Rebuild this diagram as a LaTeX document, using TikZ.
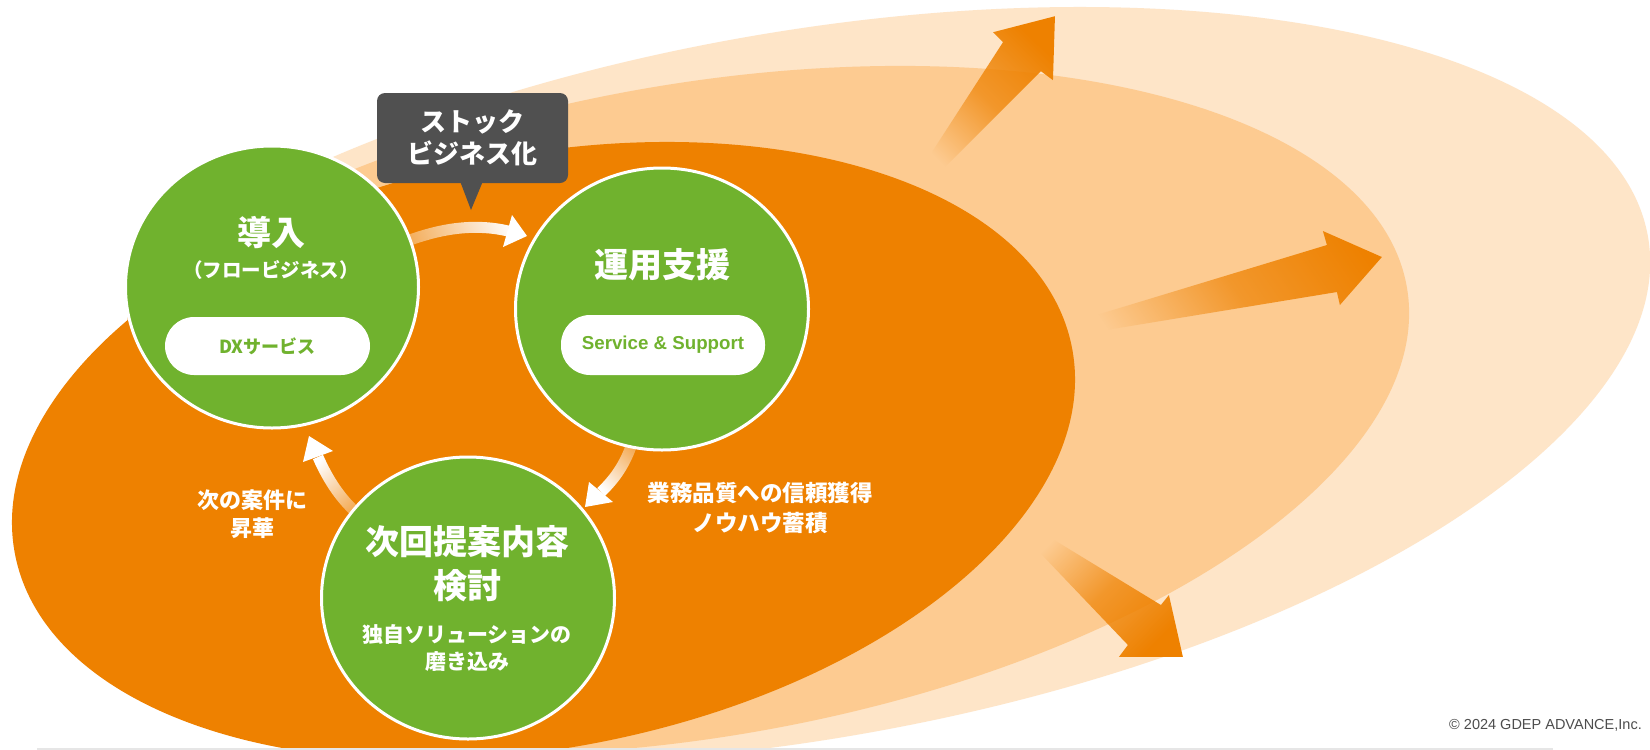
\documentclass[tikz,border=0pt]{standalone}
\usepackage{fontspec}
\newfontfamily\jp{Noto Sans CJK JP}
\newfontfamily\lsans{Liberation Sans}
\usetikzlibrary{fadings,shapes.geometric}
\definecolor{cDark}{HTML}{EE8100}
\definecolor{cMid}{HTML}{FDCB91}
\definecolor{cLight}{HTML}{FEE5C8}
\definecolor{cGreen}{HTML}{70B22E}
\definecolor{cGray}{HTML}{505050}
\definecolor{cLine}{HTML}{E6E6E6}
\definecolor{cCopy}{HTML}{4D4D4D}
\tikzfading[name=bigfade, left color=transparent!100, right color=transparent!0, middle color=transparent!30]
\tikzfading[name=whitefade, left color=transparent!70, right color=transparent!0]
\begin{document}
\begin{tikzpicture}[x=1pt,y=-1pt,
  circ/.style={shape=ellipse, fill=cGreen, draw=white, line width=3pt, inner sep=0pt, minimum width=293pt, minimum height=282pt},
  pill/.style={fill=white, rounded corners=29pt, inner sep=0pt, minimum height=58pt, text=cGreen},
  ttl/.style={text=white, align=center, inner sep=0pt, font={\jp\bfseries\fontsize{34}{44}\selectfont}},
  sub/.style={text=white, align=center, inner sep=0pt, font={\jp\bfseries\fontsize{19.5}{24}\selectfont}},
  lbl/.style={text=white, align=center, inner sep=0pt, font={\jp\bfseries\fontsize{22}{28}\selectfont}},
  shaft/.style={white, line width=11pt, path fading=whitefade},
  bigarrow/.style={fill=cDark, path fading=bigfade}]
\useasboundingbox (0,0) rectangle (1650,750);
\fill[white] (0,0) rectangle (1650,750);

% ripple ellipses
\begin{scope}
  \clip (200,-20) -- (1700,-20) -- (1700,800) -- (345,800) -- (127,322) -- (135,250) -- cycle;
  \fill[cLight, rotate around={10.02:(804,385.5)}] (804,385.5) ellipse [x radius=857, y radius=353.2];
  \fill[cMid, rotate around={9.87:(699.8,410.2)}] (699.8,410.2) ellipse [x radius=717.7, y radius=326.3];
\end{scope}

% growth arrows
\fill[bigarrow, fading angle=50.8] (917,175) -- (1003,42) -- (993,32) -- (1055,16) -- (1053,80) -- (1041,71) -- (930,182) -- cycle;
\fill[bigarrow, fading angle=13] (1080,320) -- (1327,245) -- (1323,231) -- (1382,257) -- (1340,305) -- (1337,292) -- (1088,333) -- cycle;
\fill[bigarrow, fading angle=-39] (1033,527) -- (1161,605) -- (1169,595) -- (1183,657) -- (1119,657) -- (1128,645) -- (1025,537) -- cycle;

% main orange ellipse
\fill[cDark, rotate around={11.1:(543.5,451)}] (543.5,451) ellipse [x radius=538.5, y radius=296.6];

% cycle arrows
\coordinate (a1s) at (404,242);
\coordinate (a1e) at (508,231);
\draw[shaft, fading angle=5] (a1s) -- (410,240) .. controls (446,227) and (478,224) .. (a1e);
\fill[white] (512,215) -- (527,236) -- (503,247) -- cycle;

\coordinate (a2s) at (633,440);
\coordinate (a2e) at (601,492);
\draw[shaft, fading angle=-124.6] (a2s) .. controls (627.3,460) and (616.7,477.3) .. (a2e);
\fill[white] (589,482) -- (585,507) -- (613,502) -- cycle;

\coordinate (a3s) at (358,514);
\coordinate (a3e) at (318,457);
\draw[shaft, fading angle=124] (a3s) .. controls (342,500.4) and (328.7,481.4) .. (a3e);
\fill[white] (303,462) -- (309,436) -- (333,451) -- cycle;

% circles
\node[circ] (intro) at (272,287) {};
\node[circ] (ops) at (662,309) {};
\node[circ] (next) at (468,598) {};

% pills
\node[pill, minimum width=205pt, font={\jp\bfseries\fontsize{18}{22}\selectfont}] (dxpill) at (267.5,346) {DXサービス};
\node[pill, minimum width=204pt, minimum height=60pt, font={\lsans\bfseries\fontsize{18.7}{22}\selectfont}] (sspill) at (663,345) {Service \& Support};

% texts
\node[ttl] (t1) at (271,233) {導入};
\node[sub] (t1s) at (271,270) {（フロービジネス）};
\node[ttl] (t2) at (662,265) {運用支援};
\node[ttl] (t3) at (467,564) {次回提案内容\\検討};
\node[lbl, font={\jp\bfseries\fontsize{21}{27}\selectfont}] (t3s) at (467,648.5) {独自ソリューションの\\磨き込み};
\node[lbl] (l1) at (252,514) {次の案件に\\昇華};
\node[lbl, font={\jp\bfseries\fontsize{22.5}{30}\selectfont}] (l2) at (760,508) {業務品質への信頼獲得\\ノウハウ蓄積};

% callout
\node[fill=cGray, rounded corners=8pt, minimum width=191pt, minimum height=90pt, inner sep=0pt, text=white, align=center, font={\jp\bfseries\fontsize{26}{32}\selectfont}] (stock) at (472.5,138) {ストック\\ビジネス化};
\coordinate (ptip) at (471,210);
\fill[cGray] (460,181) -- (483,181) -- (ptip) -- cycle;

% bottom rule and copyright
\coordinate (r1) at (37,749);
\coordinate (r2) at (1553,749);
\draw[cLine, line width=1.5pt] (r1) -- (r2);
\node[text=cCopy, inner sep=0pt, font={\lsans\fontsize{14.5}{16}\selectfont}] (copy) at (1545.5,725) {© 2024 GDEP ADVANCE,Inc.};
\end{tikzpicture}
\end{document}
